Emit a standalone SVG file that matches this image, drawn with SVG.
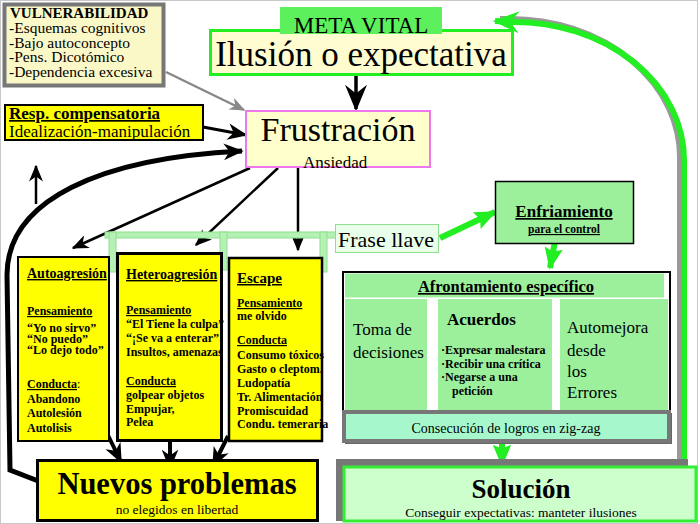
<svg xmlns="http://www.w3.org/2000/svg" width="700" height="524" viewBox="0 0 700 524">
<defs>
<style>
text{font-family:"Liberation Serif","Times New Roman",serif;fill:#000}
.b{font-weight:bold}
.u{text-decoration:underline}
.col{font-size:12px;font-weight:bold}
.ylw{fill:#ffff00;stroke:#000;stroke-width:2}
.lg{fill:#9cf09c}
</style>
<marker id="ah" viewBox="0 0 12 10" refX="11" refY="5" markerWidth="17" markerHeight="14" markerUnits="userSpaceOnUse" orient="auto"><path d="M0,0 L12,5 L0,10 L3.5,5 z" fill="#000"/></marker>
<marker id="ahT" viewBox="0 0 12 10" refX="11" refY="5" markerWidth="20" markerHeight="17" markerUnits="userSpaceOnUse" orient="auto"><path d="M0,0 L12,5 L0,10 L3.5,5 z" fill="#000"/></marker>
<marker id="ahB" viewBox="0 0 12 10" refX="11" refY="5" markerWidth="34" markerHeight="22" markerUnits="userSpaceOnUse" orient="auto"><path d="M0,0 L12,5 L0,10 L4,5 z" fill="#000"/></marker>
<marker id="ahG" viewBox="0 0 12 10" refX="11" refY="5" markerWidth="16" markerHeight="13" markerUnits="userSpaceOnUse" orient="auto"><path d="M0,0 L12,5 L0,10 L3.5,5 z" fill="#888"/></marker>
<marker id="ahV" viewBox="0 0 12 10" refX="11" refY="5" markerWidth="22" markerHeight="24" markerUnits="userSpaceOnUse" orient="auto"><path d="M0,0 L12,5 L0,10 L2,5 z" fill="#22ee22"/></marker>
<marker id="ahV2" viewBox="0 0 12 10" refX="11" refY="5" markerWidth="30" markerHeight="22" markerUnits="userSpaceOnUse" orient="auto"><path d="M0,0 L12,5 L0,10 L4,5 z" fill="#22ee22"/></marker>
</defs>
<rect x="0.5" y="0.5" width="697" height="523" fill="#fff" stroke="#c8c8c8"/>

<g id="connectors">
<path d="M680,462 L680,160 A170,138 0 0 0 510,19 L500,19" fill="none" stroke="#999" stroke-width="6"/>
<path d="M684,462 L684,160 A170,138 0 0 0 513,22 L495,21" fill="none" stroke="#22ee22" stroke-width="6" marker-end="url(#ahV2)"/>
<line x1="166" y1="72" x2="244" y2="110" stroke="#888" stroke-width="2.5" marker-end="url(#ahG)"/>
<line x1="203" y1="127" x2="246" y2="135" stroke="#000" stroke-width="3" marker-end="url(#ahT)"/>
<line x1="356" y1="75" x2="356" y2="109" stroke="#000" stroke-width="3.5" marker-end="url(#ahB)"/>
<path d="M46,484 L10,470 L7,275 C 7,200 100,158 242,151" fill="none" stroke="#000" stroke-width="5" marker-end="url(#ahT)"/>
<line x1="36" y1="204" x2="36" y2="166" stroke="#000" stroke-width="2.5" marker-end="url(#ah)"/>
<line x1="250" y1="168" x2="73" y2="248" stroke="#000" stroke-width="2.5" marker-end="url(#ah)"/>
<line x1="278" y1="168" x2="196" y2="245" stroke="#000" stroke-width="2.5" marker-end="url(#ah)"/>
<line x1="298" y1="166" x2="298" y2="250" stroke="#000" stroke-width="2.5" marker-end="url(#ah)"/>
<g fill="#b5f0b5" stroke="#8ee08e" stroke-width="1">
<rect x="105" y="232" width="232" height="6"/>
<rect x="109" y="232" width="7" height="40"/>
<rect x="220" y="232" width="7" height="38"/>
<rect x="320" y="232" width="7" height="40"/>
</g>
<line x1="103" y1="425" x2="121" y2="462" stroke="#000" stroke-width="4" marker-end="url(#ahT)"/>
<line x1="170" y1="437" x2="170" y2="468" stroke="#000" stroke-width="4" marker-end="url(#ahT)"/>
<line x1="228" y1="436" x2="213" y2="466" stroke="#000" stroke-width="4" marker-end="url(#ahT)"/>
<line x1="440" y1="238" x2="495" y2="212" stroke="#22ee22" stroke-width="6" marker-end="url(#ahV)"/>
<line x1="556" y1="236" x2="550" y2="268" stroke="#22ee22" stroke-width="6" marker-end="url(#ahV)"/>
<line x1="502" y1="443" x2="502" y2="465" stroke="#22ee22" stroke-width="6" marker-end="url(#ahV)"/>
</g>

<g id="vulnerabilidad">
<rect x="4.5" y="4.5" width="159" height="81" fill="#fbf8c8" stroke="#777" stroke-width="4"/>
<text x="10" y="18" class="b" font-size="15">VULNERABILIDAD</text>
<text x="9" y="33" font-size="15.5">-Esquemas cognitivos</text>
<text x="9" y="47.5" font-size="15.5">-Bajo autoconcepto</text>
<text x="9" y="62" font-size="15.5">-Pens. Dicotómico</text>
<text x="9" y="76.5" font-size="15.5">-Dependencia excesiva</text>
</g>

<g id="resp">
<rect x="5" y="105" width="198" height="35" class="ylw"/>
<text x="9" y="119" class="b u" font-size="17">Resp. compensatoria</text>
<text x="9" y="137" font-size="17">Idealización-manipulación</text>
</g>

<g id="ilusion">
<rect x="210.5" y="30.5" width="302" height="44" fill="#fffcd0" stroke="#22ee22" stroke-width="3"/>
<text x="361" y="66" font-size="35" text-anchor="middle">Ilusión o expectativa</text>
</g>

<g id="meta">
<rect x="280" y="7" width="162" height="27" fill="#5cf05c"/>
<text x="361" y="33" font-size="23" text-anchor="middle">META VITAL</text>
</g>

<g id="frustracion">
<rect x="246" y="111" width="184" height="56" fill="#ffffcc" stroke="#ee77ee" stroke-width="2"/>
<text x="338" y="141" font-size="34" text-anchor="middle">Frustración</text>
<text x="303" y="168" font-size="17">Ansiedad</text>
</g>

<g id="autoagresion">
<rect x="18" y="257" width="91" height="184" class="ylw"/>
<text x="27" y="278" class="b u" font-size="14">Autoagresión</text>
<text x="27" y="315" class="col u">Pensamiento</text>
<text x="27" y="332" class="col">“Yo no sirvo”</text>
<text x="27" y="343" class="col">“No puedo”</text>
<text x="27" y="354" class="col">“Lo dejo todo”</text>
<text x="27" y="388" class="col"><tspan class="u">Conducta</tspan><tspan font-weight="normal">:</tspan></text>
<text x="27" y="403" class="col">Abandono</text>
<text x="27" y="417" class="col">Autolesión</text>
<text x="27" y="432" class="col">Autolisis</text>
</g>

<g id="heteroagresion">
<rect x="117.5" y="253.5" width="104" height="187" fill="#ffff00" stroke="#000" stroke-width="3"/>
<text x="126" y="279" class="b u" font-size="14">Heteroagresión</text>
<text x="126" y="314" class="col u">Pensamiento</text>
<text x="126" y="328" class="col">“El Tiene la culpa”</text>
<text x="126" y="342" class="col">“¡Se va a enterar”!</text>
<text x="126" y="356" class="col">Insultos, amenazas</text>
<text x="126" y="385" class="col u">Conducta</text>
<text x="126" y="399" class="col">golpear  objetos</text>
<text x="126" y="413" class="col">Empujar,</text>
<text x="126" y="426" class="col">Pelea</text>
</g>

<g id="escape">
<rect x="229" y="258" width="93" height="183" fill="#ffff00" stroke="#000" stroke-width="2.5"/>
<text x="237" y="283" class="b u" font-size="15">Escape</text>
<text x="237" y="307" class="col u">Pensamiento</text>
<text x="237" y="320" class="col">me olvido</text>
<text x="237" y="344" class="col u">Conducta</text>
<text x="237" y="359" class="col">Consumo tóxicos</text>
<text x="237" y="373" class="col">Gasto o cleptom.</text>
<text x="237" y="387" class="col">Ludopatía</text>
<text x="237" y="401" class="col">Tr. Alimentación</text>
<text x="237" y="415" class="col">Promiscuidad</text>
<text x="237" y="428" class="col">Condu. temeraria</text>
</g>

<g id="nuevos">
<rect x="37.5" y="460.5" width="280" height="60" fill="#ffff00" stroke="#000" stroke-width="3"/>
<text x="177" y="494" class="b" font-size="30.5" text-anchor="middle">Nuevos problemas</text>
<text x="177" y="514" font-size="13.5" text-anchor="middle">no elegidos en libertad</text>
</g>

<g id="frase">
<rect x="335.5" y="224.5" width="103" height="28" fill="#eaffea" stroke="#8ee08e"/>
<text x="338" y="247" font-size="22">Frase llave</text>
</g>

<g id="enfriamiento">
<rect x="495.5" y="181.5" width="138" height="62" fill="#9cf09c" stroke="#000" stroke-width="1.5"/>
<text x="564" y="217" class="b u" font-size="17" text-anchor="middle">Enfriamiento</text>
<text x="564" y="233" class="b u" font-size="11.5" text-anchor="middle">para el  control</text>
</g>

<g id="afrontamiento">
<rect x="343" y="272" width="327" height="146" fill="#fff" stroke="#000" stroke-width="2"/>
<rect x="345" y="273.5" width="319" height="24" class="lg"/>
<rect x="345" y="299" width="82" height="117" class="lg"/>
<rect x="438" y="299" width="114" height="117" class="lg"/>
<rect x="560" y="299" width="108" height="117" class="lg"/>
<text x="506" y="292" class="b u" font-size="16.5" text-anchor="middle">Afrontamiento específico</text>
<text x="353" y="335" font-size="17">Toma de</text>
<text x="353" y="358" font-size="17">decisiones</text>
<text x="447" y="325" class="b" font-size="17">Acuerdos</text>
<text x="441" y="354" class="col" font-size="11.5">·Expresar malestara</text>
<text x="441" y="368" class="col" font-size="11.5">·Recibir una crítica</text>
<text x="441" y="381" class="col" font-size="11.5">·Negarse  a una</text>
<text x="452" y="395" class="col" font-size="11.5">petición</text>
<text x="567" y="333" font-size="17">Automejora</text>
<text x="567" y="356" font-size="17">desde</text>
<text x="567" y="377" font-size="17">los</text>
<text x="567" y="398" font-size="17">Errores</text>
</g>

<g id="consecucion">
<rect x="345" y="413" width="327" height="31" fill="#666"/>
<rect x="344" y="412" width="325" height="29" fill="#a6f8cc" stroke="#777" stroke-width="4"/>
<text x="506" y="433" font-size="14" text-anchor="middle">Consecución de logros en zig-zag</text>
</g>

<g id="solucion">
<rect x="336" y="459" width="352" height="62" fill="#777"/>
<rect x="344" y="467" width="352" height="54" fill="#ccffcc" stroke="#33ee33" stroke-width="3"/>
<text x="521" y="498" class="b" font-size="27" text-anchor="middle">Solución</text>
<text x="521" y="517" font-size="13.5" text-anchor="middle">Conseguir expectativas: manteter ilusiones</text>
</g>
</svg>
